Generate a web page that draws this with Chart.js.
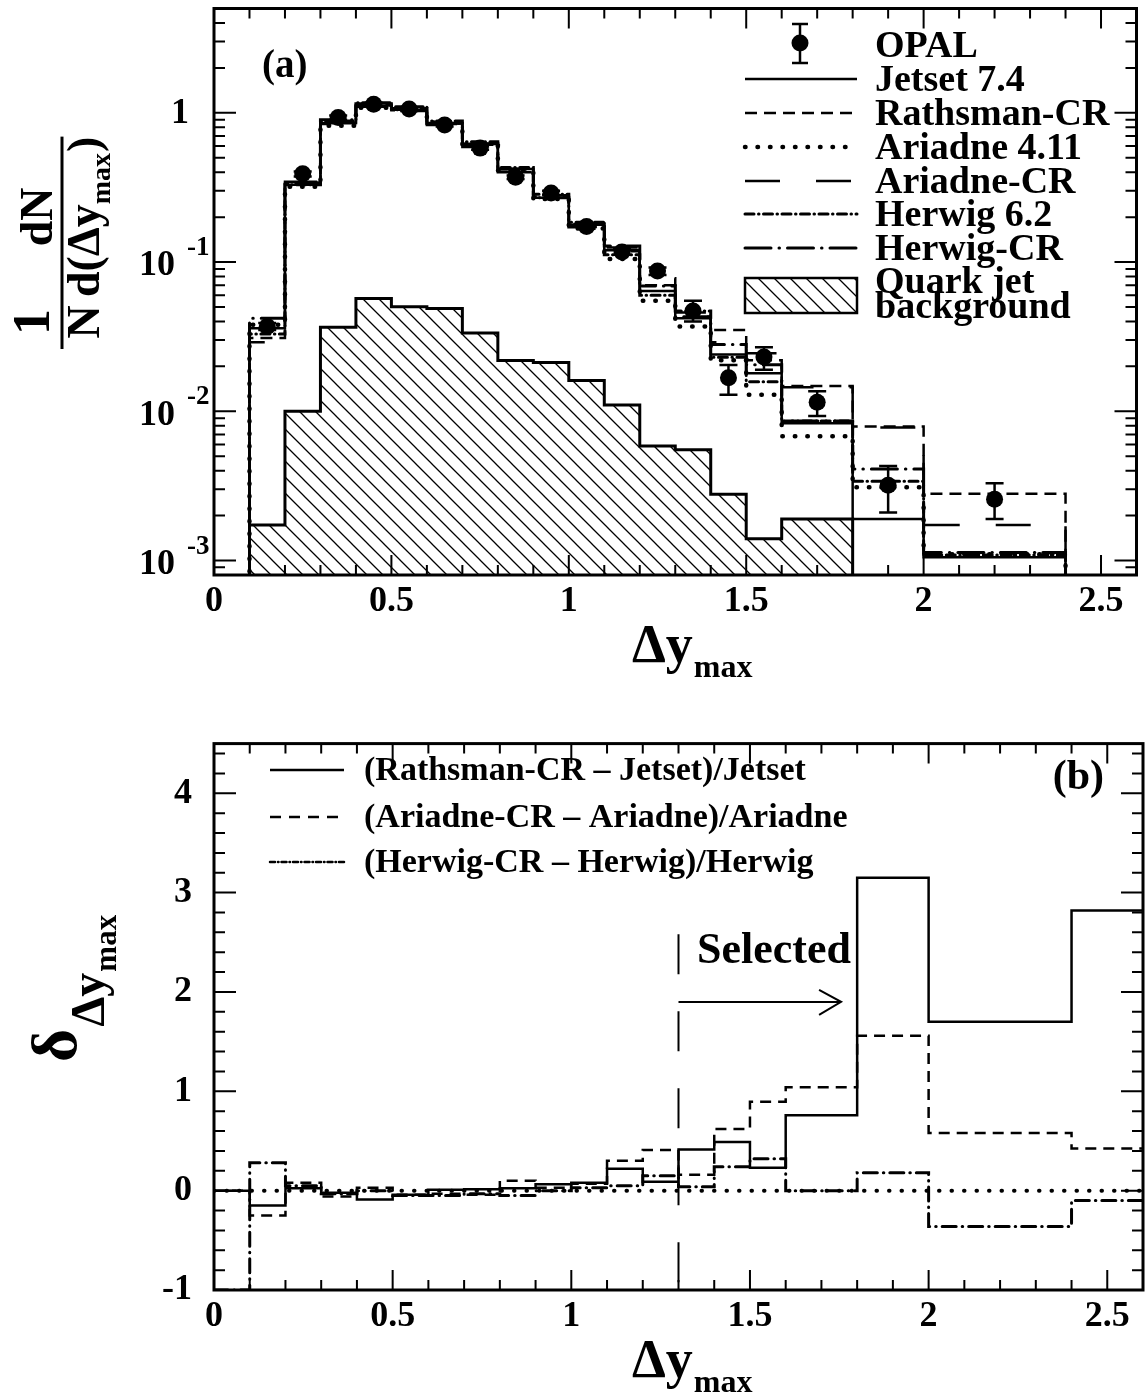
<!DOCTYPE html>
<html>
<head>
<meta charset="utf-8">
<script src="https://cdn.jsdelivr.net/npm/chart.js@4.4.1/dist/chart.umd.min.js"></script>
<style>
html, body { margin: 0; padding: 0; background: #fff; }
#wrap { position: relative; width: 1145px; height: 1395px; }
#top { position: absolute; left: 0; top: 0; width: 1145px; height: 700px; }
#bot { position: absolute; left: 0; top: 700px; width: 1145px; height: 695px; }
</style>
</head>
<body>
<div id="wrap">
  <div id="top"><canvas id="c1"></canvas></div>
  <div id="bot"><canvas id="c2"></canvas></div>
</div>
<script>
// ---------- panel (a): 1/N dN/d(dy_max) ----------
const binEdges   = [0.1, 0.2, 0.3, 0.4, 0.5, 0.6, 0.7, 0.8, 0.9, 1.0, 1.1, 1.2, 1.3, 1.4, 1.5, 1.6, 1.8, 2.0, 2.4];
const jetset     = [0.036, 0.33, 0.85, 1.12, 1.05, 0.85, 0.62, 0.42, 0.27, 0.178, 0.12, 0.064, 0.042, 0.024, 0.018, 0.0083, 0.0019, 0.00105];
const rathsmanCR = [0.031, 0.335, 0.86, 1.13, 1.04, 0.84, 0.61, 0.42, 0.275, 0.18, 0.125, 0.07, 0.046, 0.035, 0.022, 0.0148, 0.0079, 0.0028];
const ariadne    = [0.038, 0.32, 0.82, 1.08, 1.06, 0.86, 0.60, 0.41, 0.265, 0.168, 0.105, 0.055, 0.037, 0.022, 0.0129, 0.0068, 0.0031, 0.0011];
const ariadneCR  = [0.029, 0.345, 0.84, 1.10, 1.03, 0.83, 0.59, 0.40, 0.28, 0.182, 0.118, 0.078, 0.043, 0.029, 0.0245, 0.0145, 0.0078, 0.00173];
const herwig     = [0.033, 0.33, 0.88, 1.17, 1.10, 0.88, 0.64, 0.43, 0.285, 0.185, 0.112, 0.060, 0.047, 0.023, 0.0158, 0.0086, 0.0034, 0.00109];
const herwigCR   = [0.042, 0.34, 0.90, 1.15, 1.07, 0.85, 0.62, 0.42, 0.27, 0.172, 0.128, 0.069, 0.043, 0.028, 0.0205, 0.0086, 0.0041, 0.00113];

const bgEdges = [0.1, 0.2, 0.3, 0.4, 0.5, 0.6, 0.7, 0.8, 0.9, 1.0, 1.1, 1.2, 1.3, 1.4, 1.5, 1.6, 1.8];
const quarkBg = [0.00173, 0.0100, 0.0366, 0.0569, 0.0501, 0.0489, 0.0335, 0.0219, 0.0212, 0.0161, 0.0110, 0.00586, 0.00552, 0.00278, 0.0014, 0.0019];

const opalX  = [0.15, 0.25, 0.35, 0.45, 0.55, 0.65, 0.75, 0.85, 0.95, 1.05, 1.15, 1.25, 1.35, 1.45, 1.55, 1.7, 1.9, 2.2];
const opalY  = [0.037, 0.39, 0.93, 1.14, 1.06, 0.83, 0.58, 0.37, 0.29, 0.173, 0.117, 0.087, 0.047, 0.0168, 0.0231, 0.0115, 0.0032, 0.00257];
const opalLo = [0.035, 0.375, 0.90, 1.11, 1.03, 0.81, 0.565, 0.36, 0.28, 0.167, 0.112, 0.082, 0.040, 0.0129, 0.0190, 0.0093, 0.0021, 0.0019];
const opalHi = [0.039, 0.405, 0.96, 1.17, 1.09, 0.85, 0.595, 0.38, 0.30, 0.179, 0.122, 0.092, 0.055, 0.0204, 0.0269, 0.0136, 0.0043, 0.0033];

const xTickVals   = [0, 0.5, 1, 1.5, 2, 2.5];
const logTickVals = [1, 0.1, 0.01, 0.001];
const logTickExp  = ['', '-1', '-2', '-3'];
const legendA = ['OPAL', 'Jetset 7.4', 'Rathsman-CR', 'Ariadne 4.11', 'Ariadne-CR', 'Herwig 6.2', 'Herwig-CR'];

// ---------- panel (b): relative differences ----------
const ratioEdges = [0, 0.1, 0.2, 0.3, 0.4, 0.5, 0.6, 0.7, 0.8, 0.9, 1.0, 1.1, 1.2, 1.3, 1.4, 1.5, 1.6, 1.8, 2.0, 2.4, 2.6];
const dRathsman = [0, -0.15, 0.025, -0.02, -0.09, -0.04, 0.01, 0.015, 0.025, 0.065, 0.08, 0.22, 0.09, 0.415, 0.49, 0.23, 0.76, 3.15, 1.70, 2.82];
const dAriadne  = [0, -0.25, 0.08, -0.06, 0.03, -0.04, -0.03, -0.04, 0.10, 0.03, 0.07, 0.30, 0.41, 0.16, 0.62, 0.895, 1.04, 1.56, 0.58, 0.425];
const dHerwig   = [-1, 0.28, 0.05, -0.03, 0.0, -0.05, -0.05, -0.03, -0.05, 0.0, 0.03, 0.05, 0.15, 0.04, 0.24, 0.32, 0.0, 0.18, -0.36, -0.1];
const linTickVals = [-1, 0, 1, 2, 3, 4];
const legendB = ['(Rathsman-CR \u2013 Jetset)/Jetset', '(Ariadne-CR \u2013 Ariadne)/Ariadne', '(Herwig-CR \u2013 Herwig)/Herwig'];
const selectedCut = 1.3;
const selectedTop = 2.58;
const arrowEnd = 1.755;
const arrowY = 1.9;

// ---------- helpers ----------
function F(size) { return 'bold ' + size + 'px "Liberation Serif"'; }

function histPoints(edges, vals, floor) {
  let pts = [];
  if (floor !== undefined) pts.push({x: edges[0], y: floor});
  for (let i = 0; i < vals.length; i++) pts.push({x: edges[i], y: vals[i]});
  pts.push({x: edges[vals.length], y: floor !== undefined ? floor : vals[vals.length - 1]});
  return pts;
}

const hatch = (function(){
  let c = document.createElement('canvas');
  c.width = 16; c.height = 16;
  let g = c.getContext('2d');
  g.strokeStyle = '#000';
  g.lineWidth = 1.3;
  g.beginPath();
  g.moveTo(0, 0); g.lineTo(16, 16);
  g.moveTo(-2, 14); g.lineTo(2, 18);
  g.moveTo(14, -2); g.lineTo(18, 2);
  g.stroke();
  return g.createPattern(c, 'repeat');
})();

const st = {
  jetset:    {dash: [], w: 2.5, cap: 'butt'},
  rathsman:  {dash: [12, 7], w: 2.5, cap: 'butt'},
  ariadne:   {dash: [0.5, 12], w: 4.5, cap: 'round'},
  ariadneCR: {dash: [35, 36], w: 2.5, cap: 'butt'},
  herwig:    {dash: [9, 4.5, 0.5, 4.5], w: 3, cap: 'round'},
  herwigCR:  {dash: [26, 8, 0.5, 8], w: 3, cap: 'round'}
};

function histSet(vals, s, floor, edges) {
  return {
    data: histPoints(edges || binEdges, vals, floor),
    borderColor: '#000', borderWidth: s.w, borderDash: s.dash, borderCapStyle: s.cap,
    stepped: 'before', pointRadius: 0, pointHoverRadius: 0, fill: false, tension: 0
  };
}

function makeFrame(xTicks, yTicks) {
  return {
    id: 'frame',
    afterDraw(chart) {
      const ctx = chart.ctx, a = chart.chartArea, x = chart.scales.x, y = chart.scales.y;
      ctx.save();
      ctx.strokeStyle = '#000';
      ctx.setLineDash([]);
      ctx.lineWidth = 2;
      ctx.beginPath();
      xTicks.forEach(t => {
        const px = x.getPixelForValue(t[0]);
        ctx.moveTo(px, a.bottom); ctx.lineTo(px, a.bottom - t[1]);
        ctx.moveTo(px, a.top); ctx.lineTo(px, a.top + t[1]);
      });
      yTicks.forEach(t => {
        const py = y.getPixelForValue(t[0]);
        ctx.moveTo(a.left, py); ctx.lineTo(a.left + t[1], py);
        ctx.moveTo(a.right, py); ctx.lineTo(a.right - t[1], py);
      });
      ctx.stroke();
      ctx.lineWidth = 3;
      ctx.strokeRect(a.left, a.top, a.right - a.left, a.bottom - a.top);
      ctx.restore();
    }
  };
}

// tick marks (positions only)
let xMarks = [];
for (let i = 0; i <= 26; i++) xMarks.push([i / 10, i % 5 === 0 ? 20 : 10]);
let logMarks = [];
for (let e = -4; e <= 0; e++) {
  for (let k = 1; k <= 9; k++) {
    const v = k * Math.pow(10, e);
    if (v > 8e-4 && v < 5) logMarks.push([v, k === 1 ? 22 : 11]);
  }
}
let linMarks = [];
for (let i = -5; i <= 22; i++) linMarks.push([i / 5, i % 5 === 0 ? 22 : 11]);

function drawXTitle(ctx, x0, base) {
  ctx.textAlign = 'left';
  ctx.textBaseline = 'alphabetic';
  ctx.font = F(54);
  ctx.fillText('\u0394y', x0, base);
  const w = ctx.measureText('\u0394y').width;
  ctx.font = F(32);
  ctx.fillText('max', x0 + w + 1, base + 15);
}

// ---------- panel (a) decorations ----------
const decorA = {
  id: 'decorA',
  afterDatasetsDraw(chart) {
    const ctx = chart.ctx, x = chart.scales.x, y = chart.scales.y;
    ctx.save();
    ctx.strokeStyle = '#000';
    ctx.lineWidth = 2.5;
    ctx.setLineDash([]);
    ctx.beginPath();
    for (let i = 0; i < opalX.length; i++) {
      const px = x.getPixelForValue(opalX[i]);
      const y1 = y.getPixelForValue(opalLo[i]), y2 = y.getPixelForValue(opalHi[i]);
      ctx.moveTo(px, y1); ctx.lineTo(px, y2);
      ctx.moveTo(px - 9, y1); ctx.lineTo(px + 9, y1);
      ctx.moveTo(px - 9, y2); ctx.lineTo(px + 9, y2);
    }
    ctx.stroke();
    ctx.restore();
  },
  afterDraw(chart) {
    const ctx = chart.ctx, y = chart.scales.y;
    ctx.save();
    ctx.fillStyle = '#000';
    ctx.strokeStyle = '#000';
    // log tick labels
    ctx.textBaseline = 'middle';
    logTickVals.forEach((v, i) => {
      const py = y.getPixelForValue(v);
      ctx.font = F(36);
      ctx.textAlign = 'right';
      if (logTickExp[i] === '') {
        ctx.fillText('1', 189, py + 1);
      } else {
        ctx.fillText('10', 175, py + 4);
        ctx.font = F(27);
        ctx.textAlign = 'left';
        ctx.fillText(logTickExp[i], 187, py - 14);
      }
    });
    // y title, rotated
    ctx.save();
    ctx.rotate(-Math.PI / 2);
    ctx.textBaseline = 'alphabetic';
    ctx.textAlign = 'center';
    ctx.font = F(52);
    ctx.fillText('1', -322, 49);
    ctx.font = F(46);
    ctx.fillText('N', -322, 99);
    ctx.textAlign = 'left';
    const s1 = 'd(\u0394y';
    const w1 = ctx.measureText(s1).width;
    ctx.fillText(s1, -297, 99);
    ctx.font = F(28);
    const w2 = ctx.measureText('max').width;
    ctx.fillText('max', -297 + w1, 110);
    ctx.font = F(46);
    ctx.fillText(')', -297 + w1 + w2 + 1, 99);
    const wTot = w1 + w2 + 1 + ctx.measureText(')').width;
    ctx.textAlign = 'center';
    ctx.fillText('dN', -297 + wTot / 2, 52);
    ctx.lineWidth = 3;
    ctx.beginPath();
    ctx.moveTo(-349, 62); ctx.lineTo(-297 + wTot, 62);
    ctx.stroke();
    ctx.restore();
    // x title
    drawXTitle(ctx, 632, 662);
    // (a)
    ctx.textAlign = 'left';
    ctx.textBaseline = 'alphabetic';
    ctx.font = F(39);
    ctx.fillText('(a)', 262, 77);
    // legend
    const lx0 = 745, lx1 = 857, tx = 875;
    const bases = [57, 91, 125, 159, 193, 226, 260];
    ctx.font = F(38);
    legendA.forEach((t, i) => ctx.fillText(t, tx, bases[i]));
    ctx.fillText('Quark jet', tx, 293);
    ctx.fillText('background', tx, 318);
    // OPAL marker
    ctx.lineWidth = 2.5;
    ctx.beginPath();
    ctx.moveTo(800, 24); ctx.lineTo(800, 63);
    ctx.moveTo(792, 24); ctx.lineTo(808, 24);
    ctx.moveTo(792, 63); ctx.lineTo(808, 63);
    ctx.stroke();
    ctx.beginPath();
    ctx.arc(800, 43, 8.5, 0, Math.PI * 2);
    ctx.fill();
    const keys = ['jetset', 'rathsman', 'ariadne', 'ariadneCR', 'herwig', 'herwigCR'];
    keys.forEach((k, i) => {
      const s = st[k];
      const ly = bases[i + 1] - 12;
      ctx.lineWidth = s.w;
      ctx.lineCap = s.cap;
      ctx.setLineDash(s.dash);
      ctx.beginPath();
      ctx.moveTo(lx0, ly); ctx.lineTo(lx1, ly);
      ctx.stroke();
    });
    ctx.setLineDash([]);
    ctx.lineCap = 'butt';
    ctx.fillStyle = hatch;
    ctx.fillRect(lx0, 278, lx1 - lx0, 35);
    ctx.lineWidth = 2.5;
    ctx.strokeRect(lx0, 278, lx1 - lx0, 35);
    ctx.restore();
  }
};

// ---------- panel (b) decorations ----------
const decorB = {
  id: 'decorB',
  afterDraw(chart) {
    const ctx = chart.ctx, x = chart.scales.x, y = chart.scales.y;
    ctx.save();
    ctx.fillStyle = '#000';
    ctx.strokeStyle = '#000';
    // arrow
    const xa = x.getPixelForValue(selectedCut), xb = x.getPixelForValue(arrowEnd), ya = y.getPixelForValue(arrowY);
    ctx.lineWidth = 2;
    ctx.setLineDash([]);
    ctx.beginPath();
    ctx.moveTo(xa, ya); ctx.lineTo(xb, ya);
    ctx.moveTo(xb - 22, ya - 12); ctx.lineTo(xb, ya); ctx.lineTo(xb - 22, ya + 13);
    ctx.stroke();
    ctx.font = F(44);
    ctx.textAlign = 'left';
    ctx.textBaseline = 'alphabetic';
    ctx.fillText('Selected', 697, 263);
    // legend
    const bLines = [70, 117, 162];
    const bDash = [[], [11, 8], [5, 3, 0.5, 3]];
    bLines.forEach((ly, i) => {
      ctx.lineWidth = 2.5;
      ctx.setLineDash(bDash[i]);
      ctx.lineCap = i === 2 ? 'round' : 'butt';
      ctx.beginPath();
      ctx.moveTo(270, ly); ctx.lineTo(344, ly);
      ctx.stroke();
      ctx.font = F(34);
      ctx.fillText(legendB[i], 364, ly + 10);
    });
    ctx.setLineDash([]);
    // (b)
    ctx.font = F(42);
    ctx.textAlign = 'right';
    ctx.fillText('(b)', 1104, 89);
    // y title: delta with subscript
    ctx.save();
    ctx.rotate(-Math.PI / 2);
    ctx.textAlign = 'left';
    ctx.font = F(64);
    ctx.fillText('\u03b4', -362, 76);
    const wd = ctx.measureText('\u03b4').width;
    ctx.font = F(48);
    ctx.fillText('\u0394y', -362 + wd + 2, 104);
    const wy = ctx.measureText('\u0394y').width;
    ctx.font = F(31);
    ctx.fillText('max', -362 + wd + 2 + wy + 1, 116);
    ctx.restore();
    drawXTitle(ctx, 632, 677);
    ctx.restore();
  }
};

// ---------- charts ----------
const tickFont = {family: 'Liberation Serif', weight: 'bold', size: 36};
const fmtTick = v => String(v);

new Chart(document.getElementById('c1'), {
  type: 'line',
  data: {
    datasets: [
      Object.assign(histSet(quarkBg, st.jetset, 1e-5, bgEdges), {fill: 'start', backgroundColor: hatch, borderWidth: 3}),
      histSet(jetset, st.jetset, 1e-5),
      histSet(rathsmanCR, st.rathsman, 1e-5),
      histSet(ariadne, st.ariadne, 1e-5),
      histSet(ariadneCR, st.ariadneCR, 1e-5),
      histSet(herwig, st.herwig, 1e-5),
      histSet(herwigCR, st.herwigCR, 1e-5),
      {
        type: 'scatter',
        data: opalX.map((v, i) => ({x: v, y: opalY[i]})),
        pointRadius: 8.5, pointHoverRadius: 8.5, pointStyle: 'circle',
        backgroundColor: '#000', borderColor: '#000', borderWidth: 0, showLine: false
      }
    ]
  },
  options: {
    responsive: true, maintainAspectRatio: false, animation: false, devicePixelRatio: 1,
    layout: {padding: {top: 3, right: 2, left: 0, bottom: 0}},
    plugins: {legend: {display: false}, tooltip: {enabled: false}},
    scales: {
      x: {
        type: 'linear', min: 0, max: 2.6,
        grid: {display: false, drawTicks: false}, border: {display: false},
        ticks: {stepSize: 0.5, includeBounds: false, padding: 5, color: '#000', font: tickFont, maxRotation: 0, autoSkip: false, callback: fmtTick},
        afterFit: s => { s.height = 125; }
      },
      y: {
        type: 'logarithmic', min: 8e-4, max: 5,
        grid: {display: false, drawTicks: false}, border: {display: false},
        ticks: {display: false},
        afterFit: s => { s.width = 214; }
      }
    }
  },
  plugins: [makeFrame(xMarks, logMarks), decorA]
});

new Chart(document.getElementById('c2'), {
  type: 'line',
  data: {
    datasets: [
      {
        data: [{x: 0, y: 0}, {x: 2.6, y: 0}],
        borderColor: '#000', borderWidth: 4, borderDash: [0.5, 12], borderCapStyle: 'round',
        pointRadius: 0, fill: false
      },
      {
        data: [{x: selectedCut, y: selectedTop}, {x: selectedCut, y: -1}],
        borderColor: '#000', borderWidth: 2, borderDash: [40, 37],
        pointRadius: 0, fill: false
      },
      histSet(dRathsman, {dash: [], w: 2.5, cap: 'butt'}, undefined, ratioEdges),
      histSet(dAriadne, {dash: [11, 7], w: 2.5, cap: 'butt'}, undefined, ratioEdges),
      histSet(dHerwig, {dash: [14, 6, 0.5, 6], w: 3, cap: 'round'}, undefined, ratioEdges)
    ]
  },
  options: {
    responsive: true, maintainAspectRatio: false, animation: false, devicePixelRatio: 1,
    layout: {padding: {top: 18, right: 2, left: 0, bottom: 0}},
    plugins: {legend: {display: false}, tooltip: {enabled: false}},
    scales: {
      x: {
        type: 'linear', min: 0, max: 2.6,
        grid: {display: false, drawTicks: false}, border: {display: false},
        ticks: {stepSize: 0.5, includeBounds: false, padding: 5, color: '#000', font: tickFont, maxRotation: 0, autoSkip: false, callback: fmtTick},
        afterFit: s => { s.height = 105; }
      },
      y: {
        type: 'linear', min: -1, max: 4.5,
        grid: {display: false, drawTicks: false}, border: {display: false},
        ticks: {stepSize: 1, includeBounds: false, padding: 22, color: '#000', font: tickFont},
        afterFit: s => { s.width = 214; }
      }
    }
  },
  plugins: [makeFrame(xMarks, linMarks), decorB]
});
</script>
</body>
</html>
